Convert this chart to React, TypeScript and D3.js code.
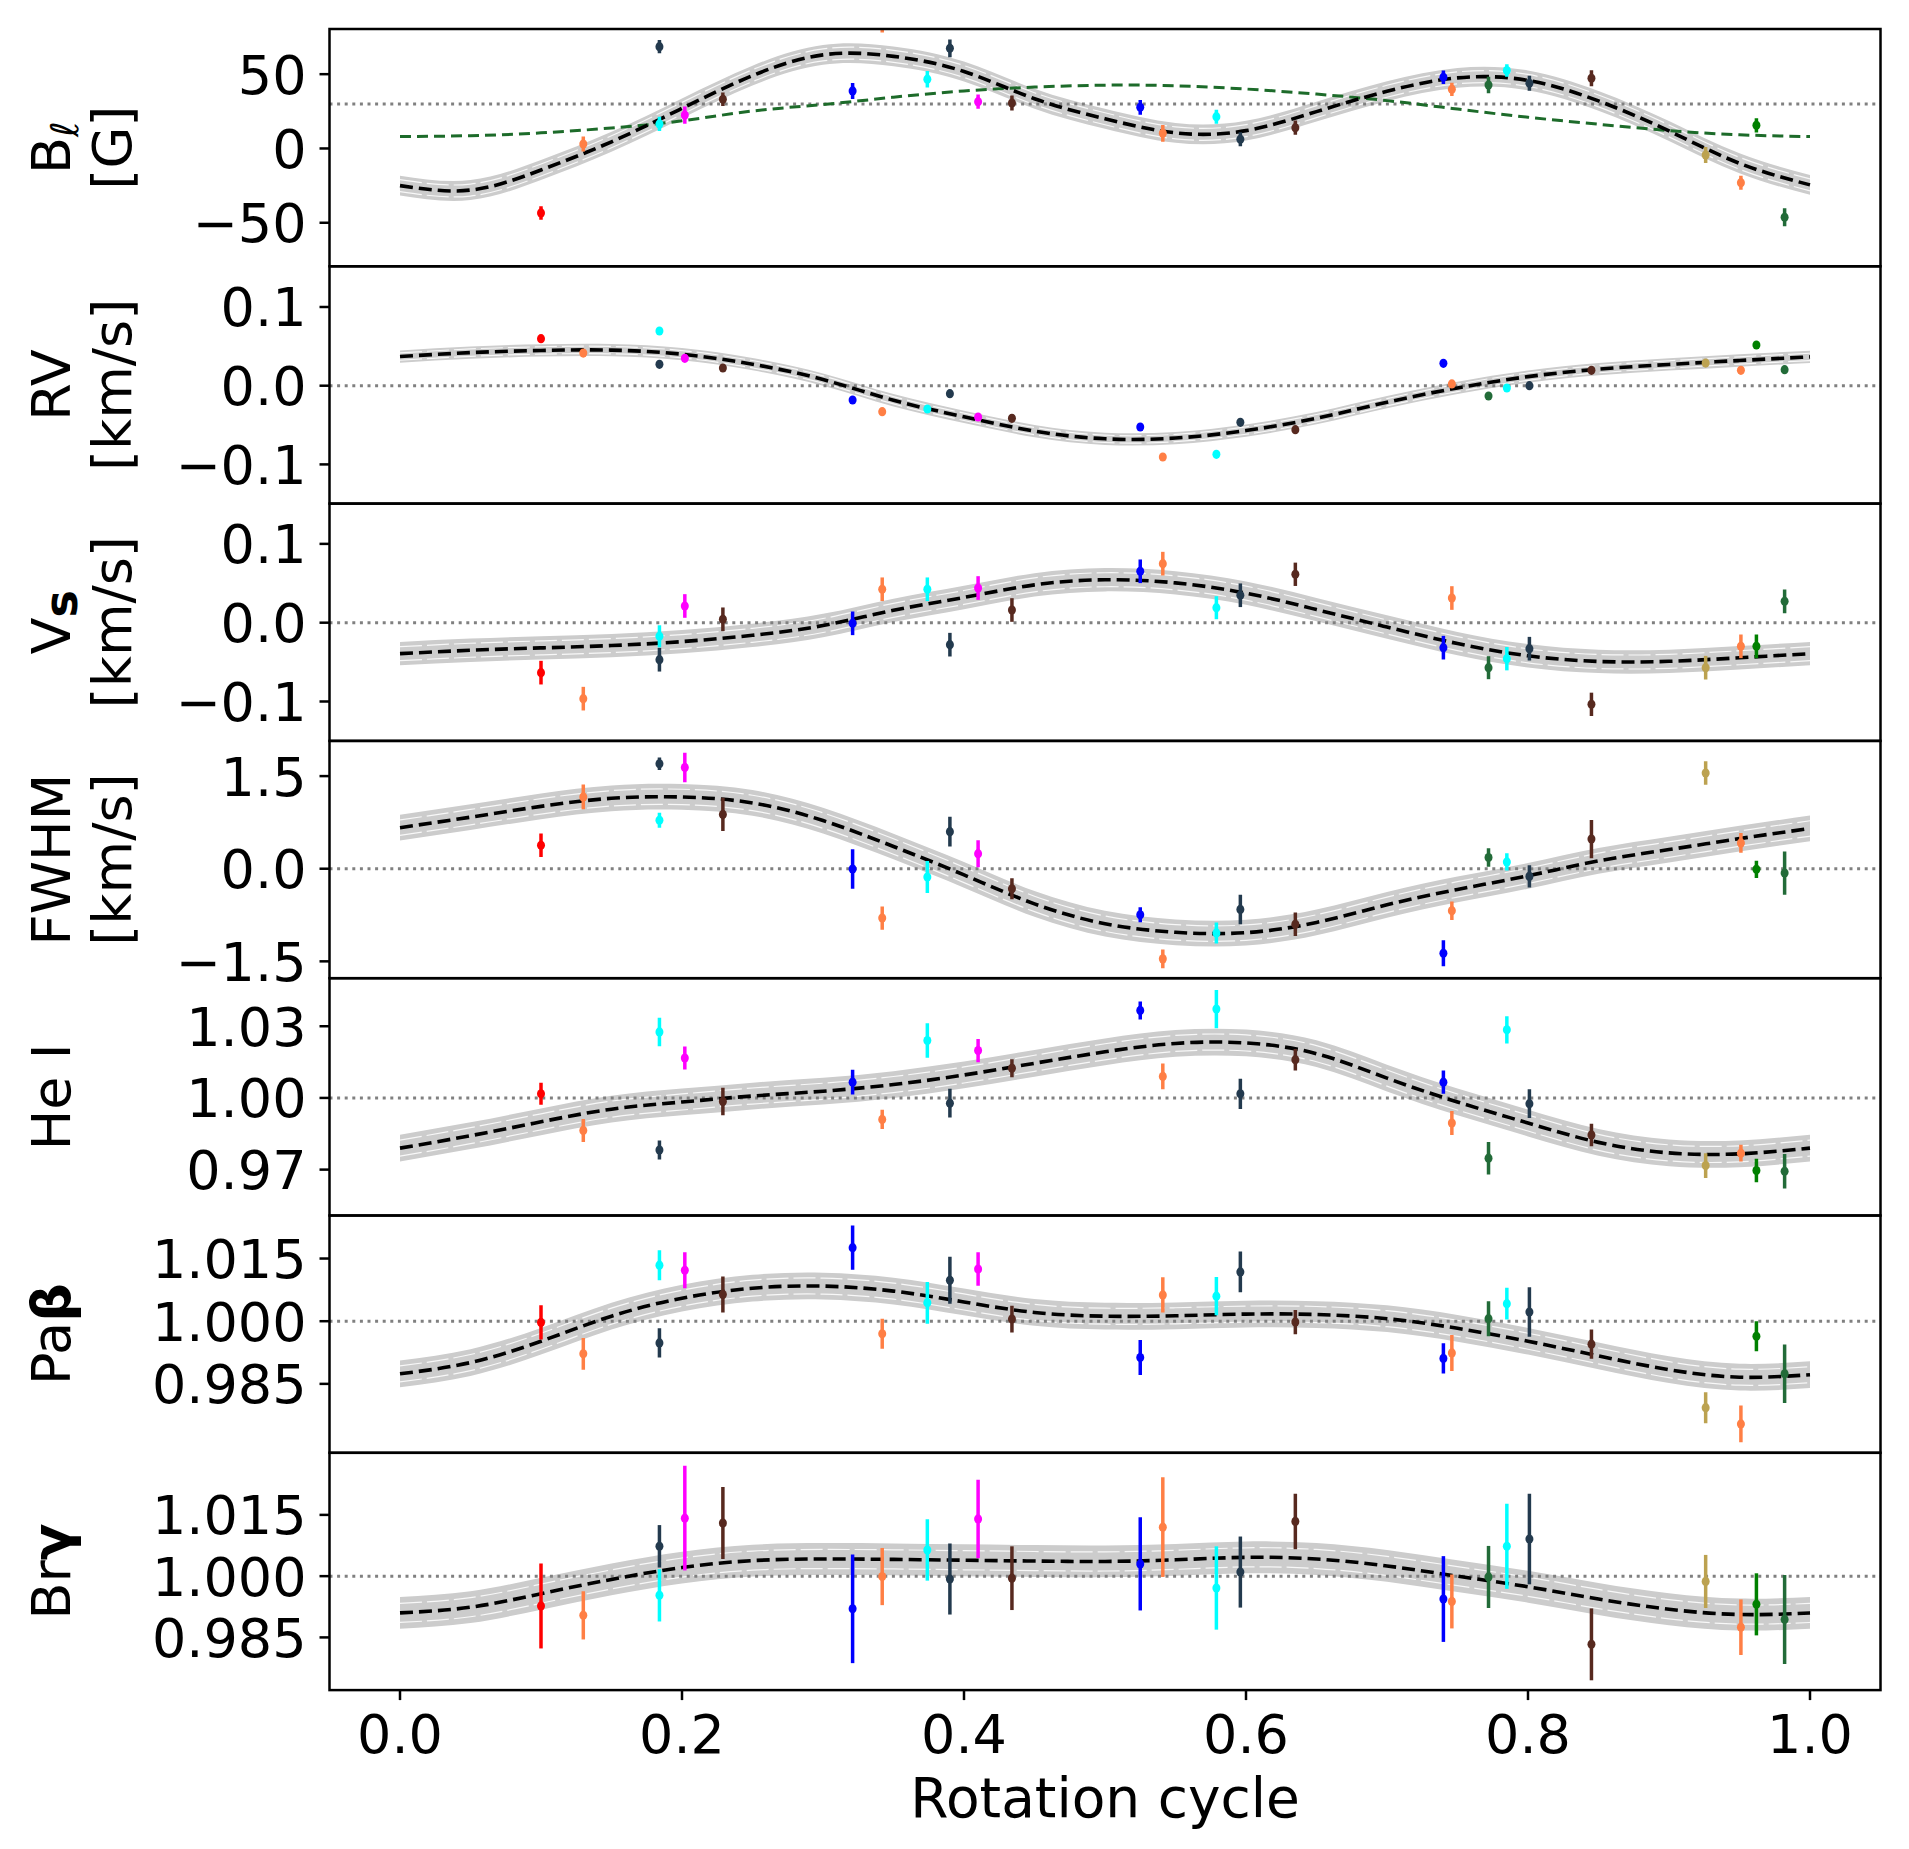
import React from "react";
import * as d3 from "d3";

// Observation phases (rotation cycle) and their colours, shared by every panel
const phase = [0.100, 0.130, 0.184, 0.184, 0.202, 0.229, 0.321, 0.342, 0.374, 0.390, 0.410, 0.434, 0.525, 0.541, 0.579, 0.596, 0.635, 0.740, 0.746, 0.772, 0.785, 0.801, 0.845, 0.926, 0.951, 0.962, 0.982];
const obsColor = ["#ff0000", "#ff7f45", "#233a4e", "#00ffff", "#ff00ff", "#57291f", "#0000ff", "#ff7f45", "#00ffff", "#233a4e", "#ff00ff", "#57291f", "#0000ff", "#ff7f45", "#00ffff", "#233a4e", "#57291f", "#0000ff", "#ff7f45", "#226b38", "#00ffff", "#233a4e", "#57291f", "#bca250", "#ff7f45", "#008000", "#226b38"];

// B_l [G]
const blVal = [-43.4, 3.0, 68.5, 16.5, 22.5, 33.1, 38.7, 83, 46.6, 67.4, 31.5, 30.6, 27.7, 10.2, 21.4, 6.2, 14.0, 47.9, 39.8, 42.7, 52.4, 43.9, 47.2, -4.4, -23, 15.6, -46.3];
const blErr = [4.5, 5, 4.5, 4.8, 5.8, 4.5, 5.4, 5, 5.6, 6, 4.8, 5, 5, 5.6, 4.7, 4.7, 4.8, 4.5, 4.5, 5.6, 4.2, 5, 5.4, 5.4, 4.7, 4.8, 6];
// RV [km/s]
const rvVal = [0.0597, 0.0415, 0.0272, 0.0695, 0.0348, 0.0225, -0.0182, -0.033, -0.0296, -0.0101, -0.0398, -0.0415, -0.0525, -0.0906, -0.0872, -0.0465, -0.0559, 0.0284, 0.0022, -0.0131, -0.0029, 0.0, 0.0195, 0.0288, 0.0195, 0.0517, 0.0204];
const rvErr = [0.003, 0.003, 0.003, 0.003, 0.003, 0.003, 0.003, 0.003, 0.003, 0.003, 0.003, 0.003, 0.003, 0.003, 0.003, 0.003, 0.003, 0.003, 0.003, 0.003, 0.003, 0.003, 0.003, 0.003, 0.003, 0.003, 0.003];
// Vs [km/s]
const vsVal = [-0.0634, -0.0964, -0.047, -0.0173, 0.0212, 0.0043, -0.0008, 0.0424, 0.0424, -0.0279, 0.044, 0.0161, 0.0652, 0.0749, 0.019, 0.0348, 0.0614, -0.0317, 0.0313, -0.0571, -0.0457, -0.033, -0.1036, -0.0571, -0.030, -0.030, 0.0271];
const vsErr = [0.015, 0.015, 0.015, 0.014, 0.015, 0.015, 0.015, 0.015, 0.015, 0.015, 0.015, 0.015, 0.015, 0.015, 0.0146, 0.015, 0.0148, 0.015, 0.015, 0.0146, 0.0148, 0.015, 0.0148, 0.015, 0.015, 0.015, 0.015];
// FWHM [km/s]
const fwhmVal = [0.38, 1.163, 1.70, 0.785, 1.64, 0.88, -0.005, -0.80, -0.135, 0.60, 0.243, -0.324, -0.746, -1.46, -1.04, -0.66, -0.90, -1.37, -0.68, 0.18, 0.11, -0.124, 0.48, 1.55, 0.417, -0.01, -0.07];
const fwhmErr = [0.19, 0.2, 0.1, 0.12, 0.24, 0.27, 0.32, 0.19, 0.26, 0.24, 0.22, 0.17, 0.12, 0.15, 0.17, 0.24, 0.19, 0.21, 0.15, 0.15, 0.14, 0.18, 0.31, 0.19, 0.16, 0.14, 0.35];
// He I
const heVal = [1.0017, 0.9864, 0.9782, 1.0276, 1.0167, 0.9985, 1.0066, 0.991, 1.024, 0.9978, 1.0198, 1.0124, 1.0366, 1.009, 1.0372, 1.0017, 1.016, 1.0066, 0.9895, 0.9748, 1.0285, 0.9976, 0.9845, 0.9717, 0.9769, 0.9696, 0.9693];
const heErr = [0.0046, 0.0048, 0.004, 0.006, 0.0048, 0.0058, 0.0052, 0.004, 0.0072, 0.006, 0.0049, 0.0038, 0.0038, 0.0054, 0.008, 0.0063, 0.0045, 0.0049, 0.005, 0.0068, 0.0057, 0.006, 0.0047, 0.0052, 0.0035, 0.0049, 0.0072];
// Pa beta
const pabVal = [0.9997, 0.9922, 0.9948, 1.0134, 1.0122, 1.0064, 1.0176, 0.997, 1.0044, 1.0098, 1.0125, 1.0005, 0.9913, 1.0063, 1.006, 1.0118, 0.9998, 0.9911, 0.9924, 1.0006, 1.0042, 1.0022, 0.9945, 0.9793, 0.9754, 0.9964, 0.9874];
const pabErr = [0.0041, 0.0038, 0.0035, 0.0036, 0.0043, 0.0043, 0.0053, 0.0036, 0.005, 0.0056, 0.004, 0.0032, 0.0042, 0.0042, 0.0046, 0.0049, 0.0029, 0.0036, 0.0043, 0.0042, 0.0038, 0.0059, 0.0035, 0.0037, 0.0044, 0.0036, 0.007];
// Br gamma
const brgVal = [0.9927, 0.9904, 1.0073, 0.9953, 1.0142, 1.013, 0.992, 0.9999, 1.0064, 0.9993, 1.014, 0.9995, 1.003, 1.012, 0.9971, 1.001, 1.0134, 0.9944, 0.9938, 0.9998, 1.0073, 1.0091, 0.9833, 0.9987, 0.9875, 0.9931, 0.9894];
const brgErr = [0.0104, 0.0059, 0.0052, 0.0064, 0.0128, 0.0088, 0.0133, 0.007, 0.0075, 0.0087, 0.0096, 0.0078, 0.0114, 0.0122, 0.0102, 0.0087, 0.0068, 0.0105, 0.0066, 0.0076, 0.0104, 0.0111, 0.0088, 0.0065, 0.0068, 0.0076, 0.0109];

// model curves on a 0.05 phase grid
const modelPhase = [0, 0.05, 0.1, 0.15, 0.2, 0.25, 0.3, 0.35, 0.4, 0.45, 0.5, 0.55, 0.6, 0.65, 0.7, 0.75, 0.8, 0.85, 0.9, 0.95, 1.0];
const blModel = [-25, -28, -14.5, 4.5, 27, 49, 63, 62, 51.8, 33.5, 20, 10.5, 12, 24.8, 38.5, 47.5, 45.8, 32, 11.8, -10, -24.5];
const blDipole = [8, 8.6, 10.5, 13.8, 18.6, 25.2, 29.6, 34.5, 38.7, 41.3, 42.6, 42.2, 40, 36.6, 32.2, 26.5, 21, 16.3, 12, 9.2, 8];
const rvModel = [0.037, 0.042, 0.0448, 0.0452, 0.040, 0.0273, 0.0078, -0.0185, -0.0395, -0.0577, -0.0675, -0.0665, -0.057, -0.0413, -0.021, -0.0028, 0.0115, 0.021, 0.027, 0.032, 0.0366];
const vsModel = [-0.0393, -0.035, -0.032, -0.029, -0.024, -0.016, -0.0036, 0.0157, 0.032, 0.048, 0.0545, 0.0505, 0.0375, 0.0166, -0.0055, -0.0265, -0.042, -0.0492, -0.049, -0.0445, -0.0393];
const fwhmModel = [0.665, 0.835, 1.01, 1.14, 1.162, 1.065, 0.78, 0.36, -0.1, -0.57, -0.89, -1.03, -1.035, -0.87, -0.585, -0.335, -0.115, 0.127, 0.31, 0.487, 0.652];
const heModel = [0.979, 0.9842, 0.99, 0.9953, 0.9983, 1.0008, 1.0028, 1.0056, 1.0096, 1.0145, 1.0193, 1.0228, 1.023, 1.0185, 1.0083, 0.9983, 0.9895, 0.9814, 0.977, 0.9766, 0.979];
const pabModel = [0.9874, 0.9901, 0.9952, 1.0012, 1.0055, 1.0079, 1.0084, 1.0072, 1.0046, 1.0021, 1.0012, 1.0013, 1.0017, 1.0016, 1.0006, 0.9983, 0.9952, 0.9917, 0.9884, 0.9866, 0.9872];
const brgModel = [0.991, 0.9924, 0.9957, 0.9992, 1.0021, 1.0038, 1.0042, 1.0041, 1.0039, 1.0037, 1.0036, 1.004, 1.0046, 1.0042, 1.0025, 1.0, 0.9974, 0.9944, 0.9919, 0.9906, 0.991];
// half width of the grey posterior band around each model
const bandHalf = [6.7, 0.0078, 0.0148, 0.208, 0.0056, 0.0032, 0.0039];

const xTicks = [0, 0.2, 0.4, 0.6, 0.8, 1.0];

const W = 1909, H = 1849;
const LEFT = 329.5, RIGHT = 1880.5, TOP = 29, PH = 237.3;
const FONT = "DejaVu Sans, sans-serif";
const FS = 54;

const x = d3.scaleLinear().domain([-0.05, 1.05]).range([LEFT, RIGHT]);

const panels = [
  { label: "bl", domain: [-79.3, 80.4], ticks: [-50, 0, 50], fmt: d3.format("d"), ref: 30, vals: blVal, errs: blErr, model: blModel, extra: blDipole },
  { label: "rv", domain: [-0.1498, 0.1517], ticks: [-0.1, 0, 0.1], fmt: d3.format(".1f"), ref: 0, vals: rvVal, errs: rvErr, model: rvModel },
  { label: "vs", domain: [-0.150, 0.1511], ticks: [-0.1, 0, 0.1], fmt: d3.format(".1f"), ref: 0, vals: vsVal, errs: vsErr, model: vsModel },
  { label: "fwhm", domain: [-1.773, 2.07], ticks: [-1.5, 0, 1.5], fmt: d3.format(".1f"), ref: 0, vals: fwhmVal, errs: fwhmErr, model: fwhmModel },
  { label: "he", domain: [0.9508, 1.0501], ticks: [0.97, 1.0, 1.03], fmt: d3.format(".2f"), ref: 1, vals: heVal, errs: heErr, model: heModel },
  { label: "pab", domain: [0.9685, 1.0253], ticks: [0.985, 1.0, 1.015], fmt: d3.format(".3f"), ref: 1, vals: pabVal, errs: pabErr, model: pabModel },
  { label: "brg", domain: [0.9721, 1.0302], ticks: [0.985, 1.0, 1.015], fmt: d3.format(".3f"), ref: 1, vals: brgVal, errs: brgErr, model: brgModel },
];

const YLabel = ({ kind, cy }) => {
  const t1 = `translate(70,${cy}) rotate(-90)`;
  const t2 = `translate(131,${cy}) rotate(-90)`;
  const common = { fontFamily: FONT, fontSize: FS, textAnchor: "middle", fill: "#000" };
  if (kind === "bl")
    return (
      <g>
        <text transform={t1} {...common}>
          B<tspan fontSize={38} fontStyle="italic" dy={8}>ℓ</tspan>
        </text>
        <text transform={t2} {...common}>[G]</text>
      </g>
    );
  if (kind === "rv" || kind === "fwhm")
    return (
      <g>
        <text transform={t1} {...common}>{kind === "rv" ? "RV" : "FWHM"}</text>
        <text transform={t2} {...common}>[km/s]</text>
      </g>
    );
  if (kind === "vs")
    return (
      <g>
        <text transform={t1} {...common}>
          V<tspan fontWeight="bold" fontSize={46} dy={7}>s</tspan>
        </text>
        <text transform={t2} {...common}>[km/s]</text>
      </g>
    );
  if (kind === "he") return <text transform={t1} {...common}>He I</text>;
  if (kind === "pab")
    return (
      <text transform={t1} {...common}>
        Pa<tspan fontWeight="bold">β</tspan>
      </text>
    );
  return (
    <text transform={t1} {...common}>
      Br<tspan fontWeight="bold">γ</tspan>
    </text>
  );
};

const Panel = ({ p, i }) => {
  const top = TOP + i * PH;
  const bottom = top + PH;
  const y = d3.scaleLinear().domain(p.domain).range([bottom, top]);
  const pts = modelPhase.map((ph, k) => [ph, p.model[k]]);
  const curve = d3.curveNatural;
  const line = d3.line().x((d) => x(d[0])).y((d) => y(d[1])).curve(curve);
  const half = bandHalf[i];
  const area = d3
    .area()
    .x((d) => x(d[0]))
    .y0((d) => y(d[1] - half))
    .y1((d) => y(d[1] + half))
    .curve(curve);
  const inner = (f) => line(pts.map((d) => [d[0], d[1] + f * half]));
  const clipId = `clip${i}`;

  return (
    <g>
      <defs>
        <clipPath id={clipId}>
          <rect x={LEFT} y={top} width={RIGHT - LEFT} height={PH} />
        </clipPath>
      </defs>
      <g clipPath={`url(#${clipId})`}>
        <path d={area(pts)} fill="#cccccc" />
        <path d={inner(0.6)} fill="none" stroke="#ffffff" strokeWidth={1.2} strokeOpacity={0.85} strokeDasharray="22 5" />
        <path d={inner(-0.6)} fill="none" stroke="#ffffff" strokeWidth={1.2} strokeOpacity={0.85} strokeDasharray="22 5" />
        <line x1={LEFT} x2={RIGHT} y1={y(p.ref)} y2={y(p.ref)} stroke="#808080" strokeWidth={3} strokeDasharray="3 4.6" />
        {p.extra && (
          <path
            d={line(modelPhase.map((ph, k) => [ph, p.extra[k]]))}
            fill="none"
            stroke="#1d6b2a"
            strokeWidth={3}
            strokeDasharray="11 6"
          />
        )}
        <path d={line(pts)} fill="none" stroke="#000" strokeWidth={3.6} strokeDasharray="13 6" />
        {phase.map((ph, k) => (
          <g key={k}>
            <line
              x1={x(ph)}
              x2={x(ph)}
              y1={y(p.vals[k] - p.errs[k])}
              y2={y(p.vals[k] + p.errs[k])}
              stroke={obsColor[k]}
              strokeWidth={3.5}
            />
            <ellipse cx={x(ph)} cy={y(p.vals[k])} rx={4} ry={4.6} fill={obsColor[k]} />
          </g>
        ))}
      </g>
      {p.ticks.map((t) => (
        <g key={t}>
          <line x1={LEFT - 10} x2={LEFT} y1={y(t)} y2={y(t)} stroke="#000" strokeWidth={2.5} />
          <text
            x={LEFT - 23}
            y={y(t)}
            dy="0.36em"
            textAnchor="end"
            fontFamily={FONT}
            fontSize={FS}
          >
            {p.fmt(t)}
          </text>
        </g>
      ))}
      <YLabel kind={p.label} cy={(top + bottom) / 2} />
      <rect x={LEFT} y={top} width={RIGHT - LEFT} height={PH} fill="none" stroke="#000" strokeWidth={2.5} />
    </g>
  );
};

export default function App() {
  const bottom = TOP + PH * panels.length;
  const fmtX = d3.format(".1f");
  return (
    <svg
      width={W}
      height={H}
      viewBox={`0 0 ${W} ${H}`}
      style={{ position: "absolute", left: 0, top: 0, background: "#fff" }}
    >
      <rect width={W} height={H} fill="#fff" />
      {panels.map((p, i) => (
        <Panel key={p.label} p={p} i={i} />
      ))}
      {xTicks.map((t) => (
        <g key={t}>
          <line x1={x(t)} x2={x(t)} y1={bottom} y2={bottom + 10} stroke="#000" strokeWidth={2.5} />
          <text x={x(t)} y={1753} textAnchor="middle" fontFamily={FONT} fontSize={FS}>
            {fmtX(t)}
          </text>
        </g>
      ))}
      <text x={x(0.5)} y={1817} textAnchor="middle" fontFamily={FONT} fontSize={55}>
        Rotation cycle
      </text>
    </svg>
  );
}
